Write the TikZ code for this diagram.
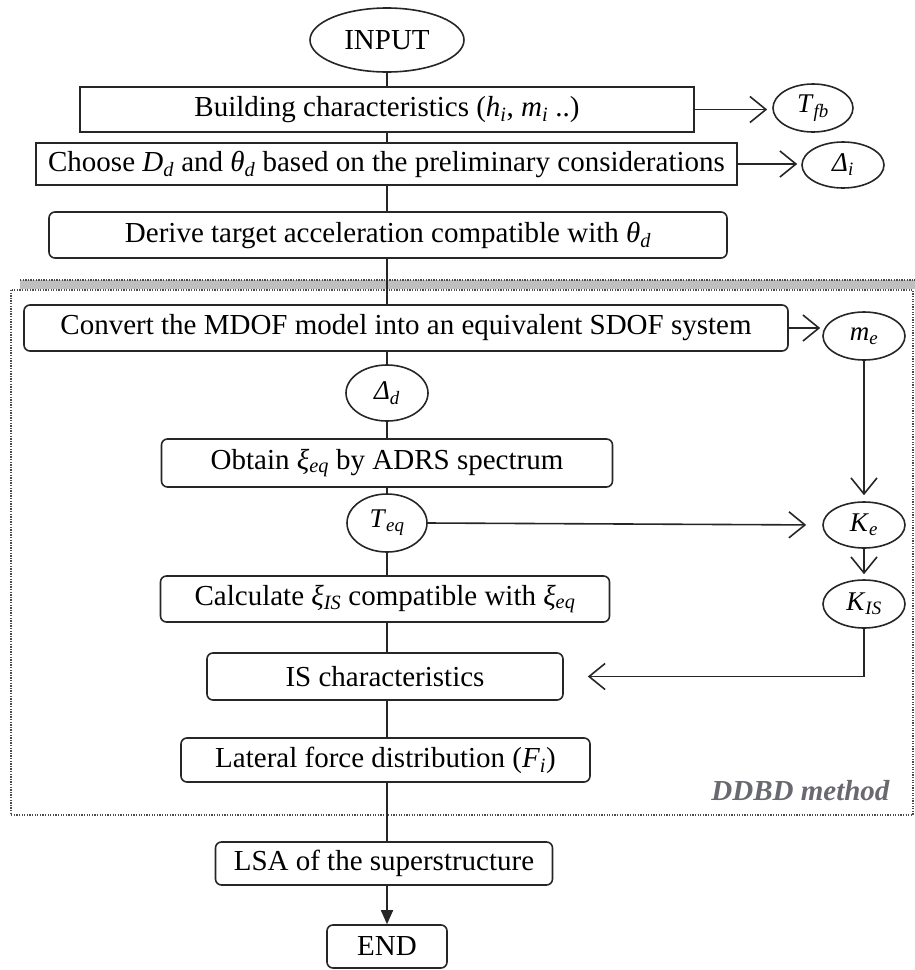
\documentclass[tikz,border=0pt]{standalone}
\usepackage{fontspec}
\setmainfont{Liberation Serif}
\usetikzlibrary{shapes.geometric,arrows.meta}
\newcommand{\vv}[2]{\textit{#1}\textsubscript{\textit{#2}}}
\definecolor{lbl}{RGB}{105,105,112}
\tikzset{
  base/.style={draw=black!85, line width=1.6pt, inner sep=0pt, font=\fontsize{29}{34}\selectfont},
  sqbox/.style={base, rectangle},
  rbox/.style={base, rectangle, rounded corners=6pt},
  oval/.style={base, ellipse, font=\fontsize{27}{32}\selectfont},
  link/.style={draw=black!85, line width=1.6pt},
  arr/.style={link, -{Straight Barb[length=16pt,width=26pt,line width=1.6pt]}},
  endarr/.style={link, -{Triangle[length=14pt,width=12pt]}},
  framedot/.style={line width=1.3pt, black!70, dash pattern=on 1.3pt off 1.3pt},
}
\begin{document}
\begin{tikzpicture}[x=1pt,y=-1pt]
\useasboundingbox (0,0) rectangle (915,970);
% DDBD frame and shadow band
\fill[gray!50] (20,280) rectangle (915,289);
\draw[framedot] (20,280) -- (915,280);
\draw[framedot] (11,290) rectangle (913,815);
\node[anchor=base east, font=\fontsize{29}{34}\selectfont\bfseries\itshape, text=lbl] (ddbd) at (893,800) {DDBD method};

% main column
\node[oval, minimum width=154pt, minimum height=64pt, font=\fontsize{29}{34}\selectfont] (input) at (387,40) {INPUT};
\node[sqbox, minimum width=614pt, minimum height=45pt] (bld) at (387,109.5) {Building characteristics (\vv{h}{i}, \vv{m}{i} ..)};
\node[oval, minimum width=80pt, minimum height=48pt] (tfb) at (813,108) {\vv{T}{fb}};
\node[sqbox, minimum width=701pt, minimum height=42pt] (choose) at (386.5,164) {Choose \vv{D}{d} and \vv{θ}{d} based on the preliminary considerations};
\node[oval, minimum width=82pt, minimum height=46pt] (di) at (843,165) {\vv{Δ}{i}};
\node[rbox, minimum width=678pt, minimum height=46pt] (derive) at (388,235) {Derive target acceleration compatible with \vv{θ}{d}};
\node[rbox, minimum width=764pt, minimum height=46pt] (conv) at (406,328) {Convert the MDOF model into an equivalent SDOF system};
\node[oval, minimum width=82pt, minimum height=48pt] (me) at (864,336) {\vv{m}{e}};
\node[oval, minimum width=82pt, minimum height=56pt] (dd) at (387,393) {\vv{Δ}{d}};
\node[rbox, minimum width=451pt, minimum height=48pt] (obtain) at (387,463) {Obtain \vv{ξ}{eq} by ADRS spectrum};
\node[oval, minimum width=80pt, minimum height=58pt] (teq) at (387,523) {\vv{T}{eq}};
\node[oval, minimum width=82pt, minimum height=46pt] (ke) at (864,525) {\vv{K}{e}};
\node[rbox, minimum width=449pt, minimum height=46pt] (calc) at (385,599) {Calculate \vv{ξ}{IS} compatible with \vv{ξ}{eq}};
\node[oval, minimum width=82pt, minimum height=48pt] (kis) at (864,604) {\vv{K}{IS}};
\node[rbox, minimum width=356pt, minimum height=47pt] (is) at (385,676.5) {IS characteristics};
\node[rbox, minimum width=409pt, minimum height=44pt] (lat) at (385.5,760) {Lateral force distribution (\vv{F}{i})};
\node[rbox, minimum width=337pt, minimum height=43pt] (lsa) at (384,863.5) {LSA of the superstructure};
\node[rbox, minimum width=120pt, minimum height=43pt] (end) at (387,946.5) {END};

% trunk connectors
\draw[link] (input.south) -- (input.south |- bld.north);
\draw[link] (input.south |- bld.south) -- (input.south |- choose.north);
\draw[link] (input.south |- choose.south) -- (input.south |- derive.north);
\draw[link] (input.south |- derive.south) -- (dd.north |- conv.north);
\draw[link] (dd.north |- conv.south) -- (dd.north);
\draw[link] (dd.south) -- (dd.south |- obtain.north);
\draw[link] (teq.north |- obtain.south) -- (teq.north);
\draw[link] (teq.south) -- (teq.south |- calc.north);
\draw[link] (teq.south |- calc.south) -- (teq.south |- is.north);
\draw[link] (teq.south |- is.south) -- (teq.south |- lat.north);
\draw[link] (teq.south |- lat.south) -- (teq.south |- lsa.north);
\draw[endarr] (teq.south |- lsa.south) -- (end.north);

% side connectors
\draw[arr, shorten >=5pt] (bld.east) -- (bld.east -| tfb.west);
\draw[arr, shorten >=4pt] (choose.east) -- (choose.east -| di.west);
\draw[arr, shorten >=2pt] (conv.east) -- (conv.east -| me.west);
\draw[arr, shorten >=6pt] (me.south) -- (ke.north);
\draw[arr, shorten >=16pt] (teq.east) -- (ke.west);
\draw[arr, shorten >=5pt] (ke.south) -- (kis.north);
\draw[arr, shorten >=24pt] (kis.south) |- (is.east);
\end{tikzpicture}
\end{document}
